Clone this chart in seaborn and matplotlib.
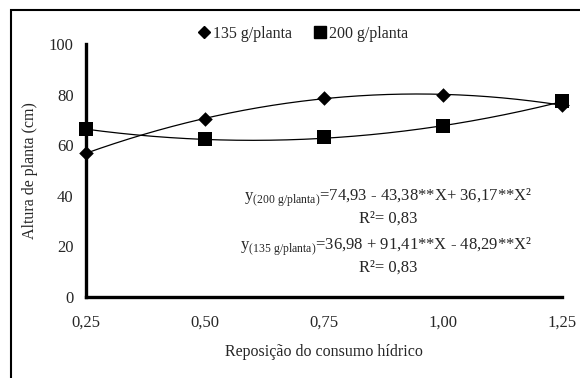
import numpy as np
import pandas as pd
import matplotlib
matplotlib.use("Agg")
import matplotlib.pyplot as plt
from matplotlib.patches import Rectangle
from matplotlib.lines import Line2D
import seaborn as sns

# Water-replenishment levels and measured plant heights
reposicao = [0.25, 0.50, 0.75, 1.00, 1.25]
altura_135 = [57.0, 70.5, 78.5, 80.0, 75.8]
altura_200 = [66.4, 62.4, 63.2, 67.6, 77.3]

# Quadratic regression coefficients (b0, b1, b2)
coef_135 = [36.98, 91.41, -48.29]
coef_200 = [74.93, -43.38, 36.17]

xticks = [0.25, 0.50, 0.75, 1.00, 1.25]
xtick_labels = ["0,25", "0,50", "0,75", "1,00", "1,25"]
yticks = [0, 20, 40, 60, 80, 100]

sns.set_style("white")
plt.rcParams["font.family"] = ["Liberation Serif", "DejaVu Serif"]
plt.rcParams["mathtext.fontset"] = "custom"
plt.rcParams["mathtext.rm"] = "Liberation Serif"

fig = plt.figure(figsize=(5.8, 3.78), dpi=100)
ax = fig.add_axes([86 / 580, 1 - 297 / 378, (562 - 86) / 580, (297 - 44) / 378])

# Fitted curves
xs = np.linspace(0.25, 1.25, 200)
fit = pd.DataFrame({
    "x": np.concatenate([xs, xs]),
    "y": np.concatenate([
        coef_135[0] + coef_135[1] * xs + coef_135[2] * xs ** 2,
        coef_200[0] + coef_200[1] * xs + coef_200[2] * xs ** 2,
    ]),
    "dose": ["135"] * len(xs) + ["200"] * len(xs),
})
sns.lineplot(data=fit, x="x", y="y", units="dose", estimator=None,
             color="black", linewidth=0.9, ax=ax, legend=False)

# Observed means
obs = pd.DataFrame({
    "x": reposicao * 2,
    "y": altura_135 + altura_200,
    "dose": ["135 g/planta"] * 5 + ["200 g/planta"] * 5,
})
sns.scatterplot(data=obs[obs.dose == "135 g/planta"], x="x", y="y", marker="D",
                s=55, color="black", edgecolor="black", linewidth=0, ax=ax,
                clip_on=False, zorder=5, legend=False)
sns.scatterplot(data=obs[obs.dose == "200 g/planta"], x="x", y="y", marker="s",
                s=110, color="black", edgecolor="black", linewidth=0, ax=ax,
                clip_on=False, zorder=5, legend=False)

ax.set_xlim(0.25, 1.25)
ax.set_ylim(0, 100)
ax.set_xticks(xticks)
ax.set_xticklabels(xtick_labels)
ax.set_yticks(yticks)
ax.tick_params(axis="x", direction="in", length=4, width=2, pad=13, labelsize=12)
ax.tick_params(axis="y", direction="out", length=5, width=1.2, pad=4, labelsize=12)
for side in ("top", "right"):
    ax.spines[side].set_visible(False)
for side in ("left", "bottom"):
    ax.spines[side].set_linewidth(2.4)
    ax.spines[side].set_color("black")
ax.set_xlabel("Reposição do consumo hídrico", fontsize=11.5, labelpad=9)
ax.set_ylabel("Altura de planta (cm)", fontsize=11.5, labelpad=8)

# Regression equations
ax.text(0.938, 0.39, r"$\mathrm{y}_{\mathrm{(200\ g/planta)}}$=74,93 - 43,38**X+ 36,17**X²",
        transform=ax.transAxes, ha="right", va="center", fontsize=12)
ax.text(0.635, 0.31, "R²= 0,83", transform=ax.transAxes, ha="center", va="center", fontsize=12)
ax.text(0.938, 0.20, r"$\mathrm{y}_{\mathrm{(135\ g/planta)}}$=36,98 + 91,41**X - 48,29**X²",
        transform=ax.transAxes, ha="right", va="center", fontsize=12)
ax.text(0.635, 0.118, "R²= 0,83", transform=ax.transAxes, ha="center", va="center", fontsize=12)

# Legend
handles = [
    Line2D([], [], marker="D", color="black", linestyle="none", markersize=6.5),
    Line2D([], [], marker="s", color="black", linestyle="none", markersize=8),
]
fig.legend(handles, ["135 g/planta", "200 g/planta"], loc="center",
           bbox_to_anchor=(302 / 580, 1 - 34 / 378), ncol=2, frameon=False,
           handletextpad=0.05, columnspacing=1.3, handlelength=1.0, fontsize=11.5)

# Outer frame
fig.patches.append(Rectangle((11 / 580, -0.2), 1.2, 0.2 + 1 - 10 / 378,
                             transform=fig.transFigure, fill=False,
                             edgecolor="black", linewidth=1.5))

fig.savefig("out.png", dpi=100, facecolor="white")
